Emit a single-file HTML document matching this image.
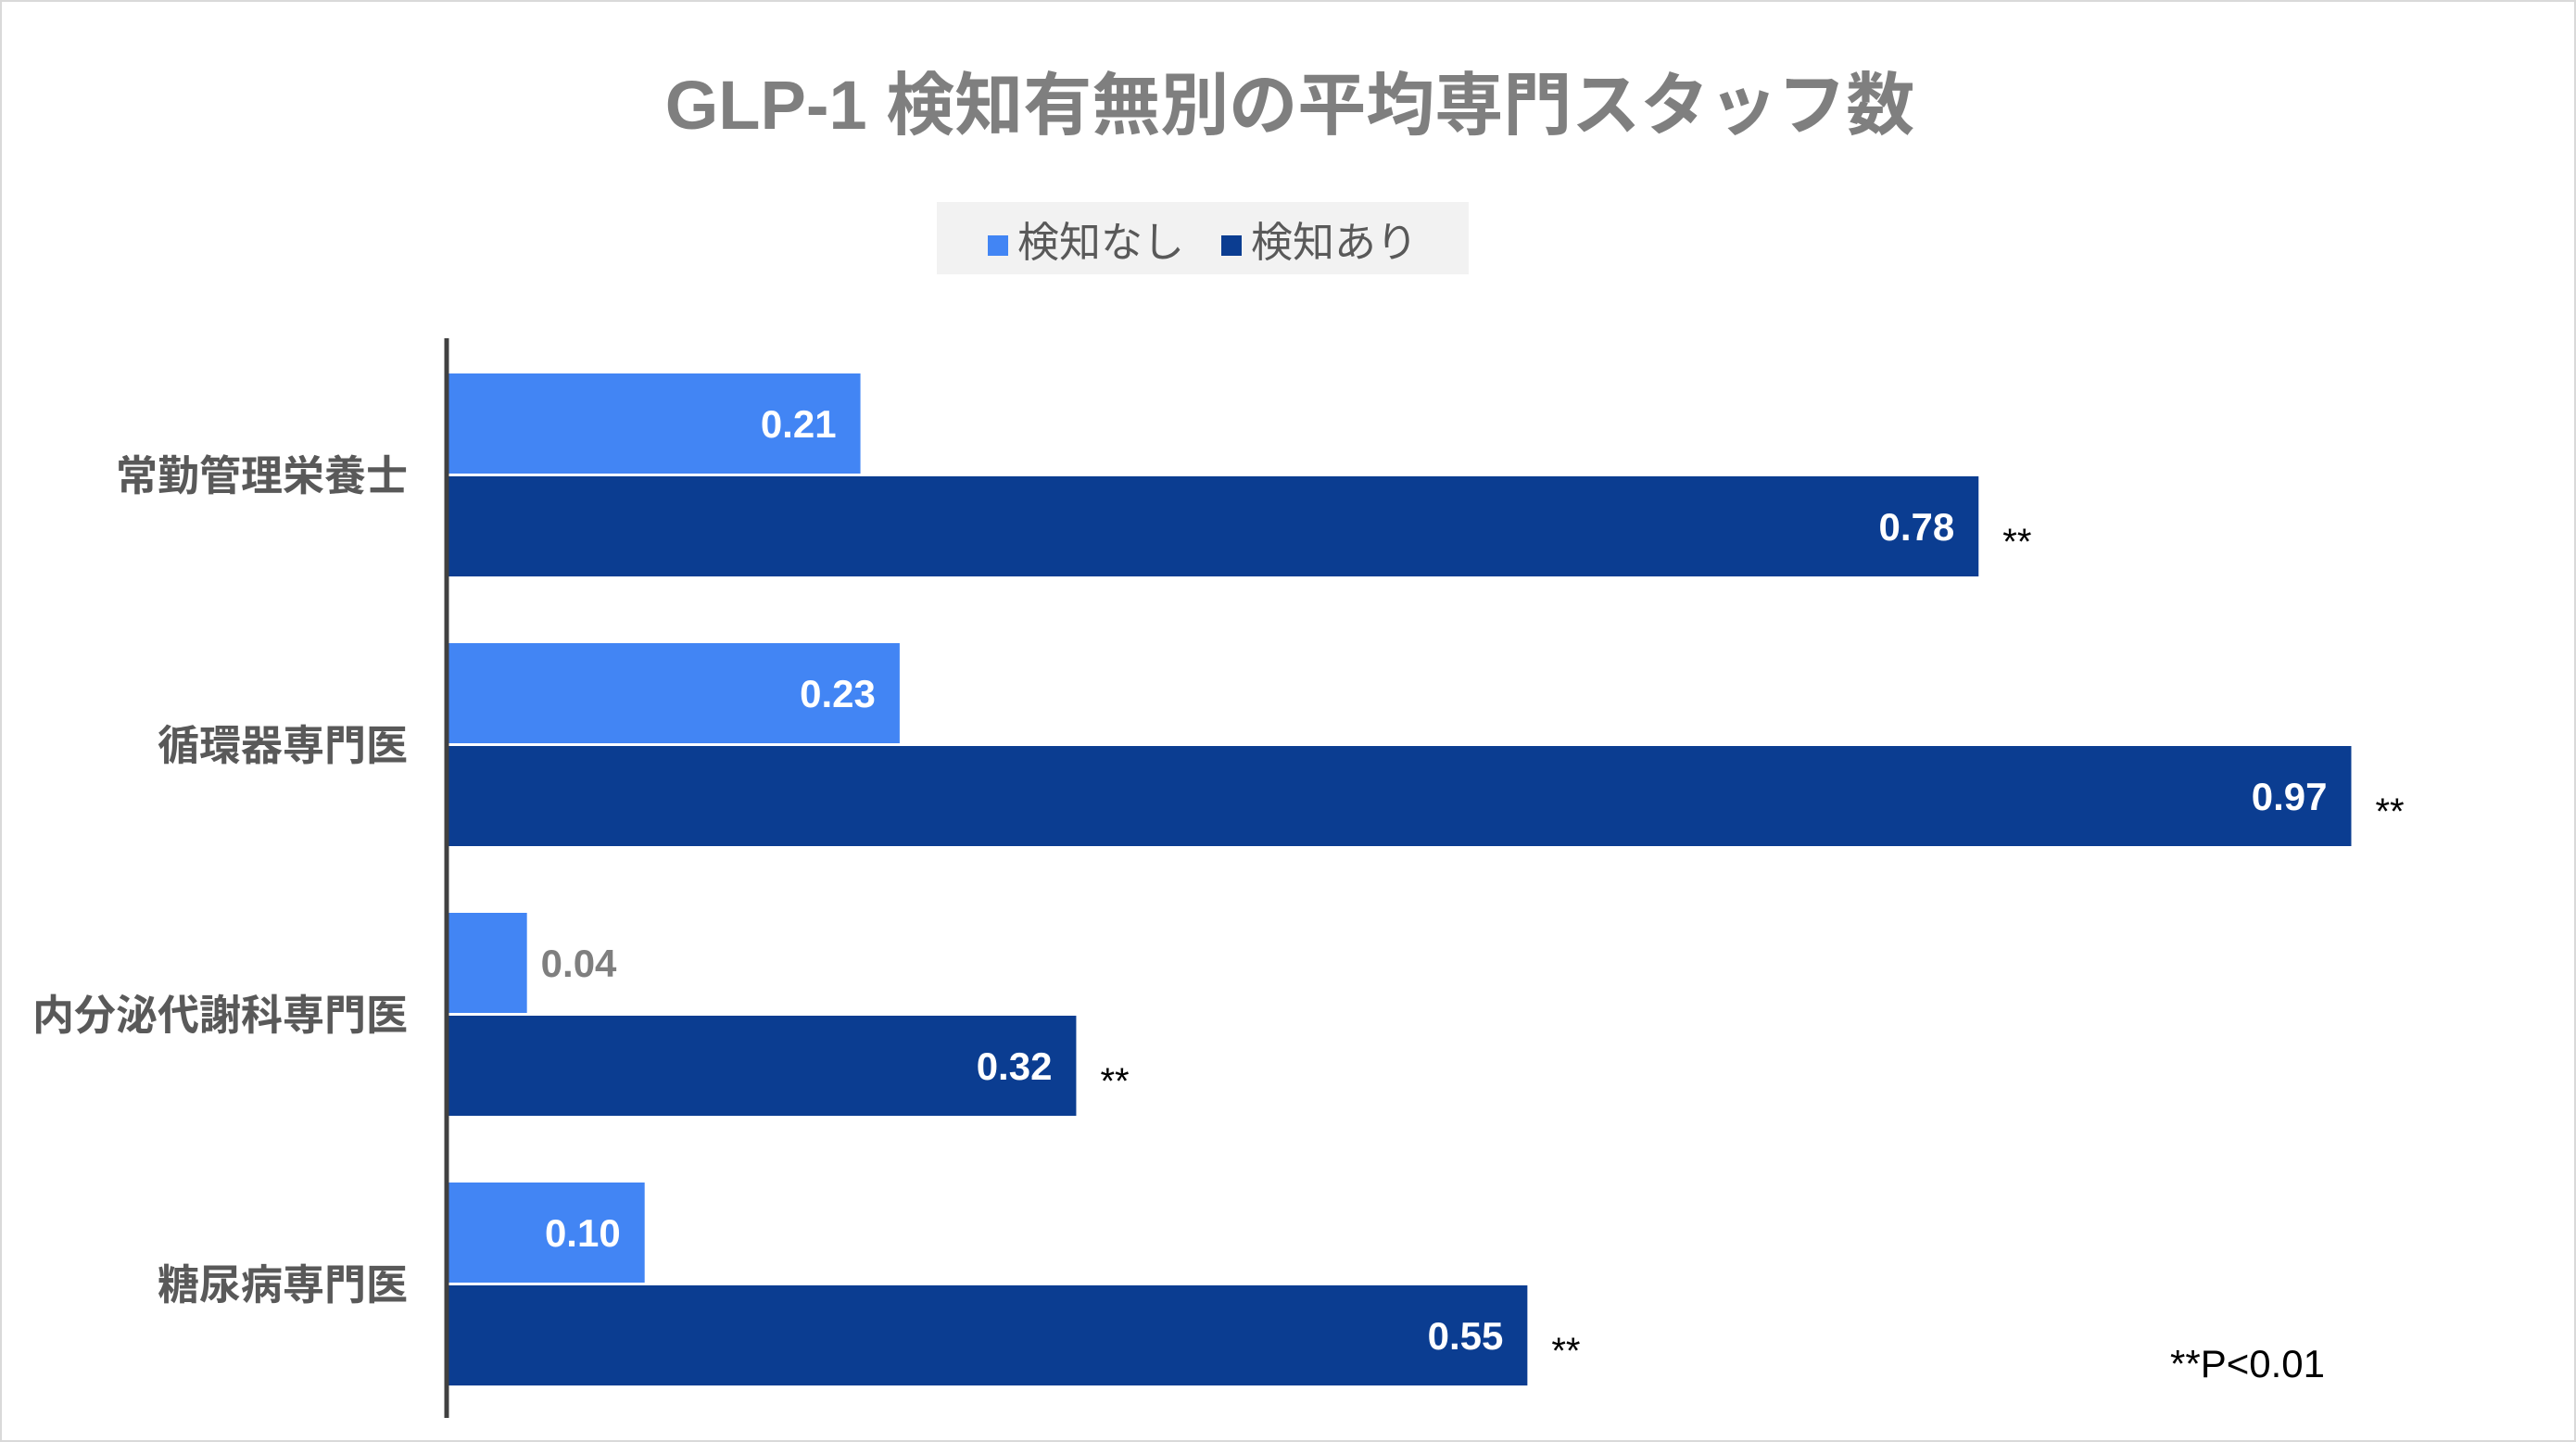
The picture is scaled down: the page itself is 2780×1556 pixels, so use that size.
<!DOCTYPE html>
<html><head><meta charset="utf-8">
<style>
html,body{margin:0;padding:0;background:#fff;}
#wrap{position:relative;width:2780px;height:1556px;box-sizing:border-box;border:2px solid #d9d9d9;overflow:hidden;font-family:"Liberation Sans","Noto Sans CJK JP",sans-serif;}
#title{position:absolute;left:0;width:2780px;top:52px;text-align:center;font-size:74px;font-weight:bold;color:#7f7f7f;}
#legend{position:absolute;left:1009px;top:216px;width:574px;height:78px;background:#f2f2f2;font-size:45px;color:#595959;display:flex;align-items:center;justify-content:center;gap:40px;}
.sw{display:inline-block;width:22px;height:22px;margin-right:10px;vertical-align:middle;}
</style></head><body>
<div id="wrap">
<div id="title">GLP-1 検知有無別の平均専門スタッフ数</div>
<div id="legend">
<span><span class="sw" style="background:#4285f4"></span>検知なし</span>
<span><span class="sw" style="background:#0b3d91"></span>検知あり</span>
</div>
<svg id="chart" width="2780" height="1556" style="position:absolute;left:0;top:0"></svg>
</div>
<script>
const categories=["常勤管理栄養士","循環器専門医","内分泌代謝科専門医","糖尿病専門医"];
const noneValues=[0.21,0.23,0.04,0.10];
const detValues=[0.78,0.97,0.32,0.55];
const sigMarks=["**","**","**","**"];
const NS="http://www.w3.org/2000/svg";
const svg=document.getElementById('chart');
const x0=482, unit=2117, top0=401, pitch=291, bh=108;
const xs=v=>x0+v*unit;
function mk(tag,attrs,text){const e=document.createElementNS(NS,tag);for(const k in attrs)e.setAttribute(k,attrs[k]);if(text!==undefined)e.textContent=text;svg.appendChild(e);return e;}
const font='"Liberation Sans","Noto Sans CJK JP",sans-serif';
categories.forEach((c,i)=>{
  const y1=top0+i*pitch, y2=y1+bh+3;
  const b1=mk('rect',{x:x0,y:y1,width:xs(noneValues[i])-x0,height:bh,fill:'#4285f4'});
  
  
  const b2=mk('rect',{x:x0,y:y2,width:xs(detValues[i])-x0,height:bh,fill:'#0b3d91'});
  
  
  const lab=mk('text',{x:438,y:y1+bh+18,'text-anchor':'end','font-size':45,'font-weight':'bold',fill:'#595959','font-family':font},c);
  
  
  const w1=xs(noneValues[i])-x0;
  const inside=w1>120;
  const v1=mk('text',{x:inside?xs(noneValues[i])-26:xs(noneValues[i])+15,y:y1+bh/2+15,'text-anchor':inside?'end':'start','font-size':42,'font-weight':'bold',fill:inside?'#fff':'#7f7f7f','font-family':font},noneValues[i].toFixed(2));
  
  
  const v2=mk('text',{x:xs(detValues[i])-26,y:y2+bh/2+15,'text-anchor':'end','font-size':42,'font-weight':'bold',fill:'#fff','font-family':font},detValues[i].toFixed(2));
  
  
  const s=mk('text',{x:xs(detValues[i])+26,y:y2+bh/2+30,'font-size':40,fill:'#000','font-family':font},sigMarks[i]);
  
  
});
const ax=mk('line',{x1:480,y1:363,x2:480,y2:1528,stroke:'#404040','stroke-width':5});


const note=mk('text',{x:2340,y:1484,'font-size':42,fill:'#000','font-family':font},'**P<0.01');


</script>
</body></html>
